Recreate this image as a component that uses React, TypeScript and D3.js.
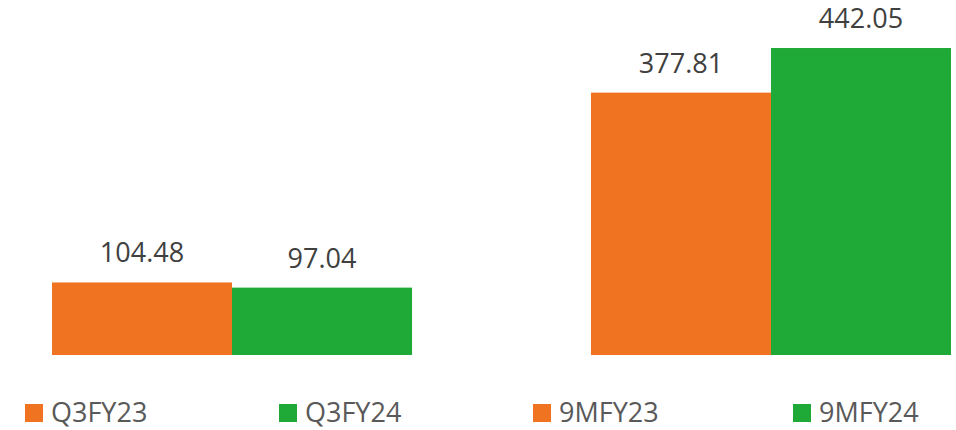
import { useRef, useEffect } from "react";
import * as d3 from "d3";

const groups = ["Q3", "9M"];
const seriesLabels = ["Q3FY23", "Q3FY24", "9MFY23", "9MFY24"];
const prevYear = [104.48, 377.81];
const currYear = [97.04, 442.05];

const ORANGE = "#ef7320";
const GREEN = "#1fa937";
const FONT = "'Open Sans', 'Segoe UI', sans-serif";

export default function App() {
  const svgRef = useRef<SVGSVGElement>(null);

  useEffect(() => {
    if (!svgRef.current) return;
    const width = 956;
    const height = 430;
    const svg = d3.select(svgRef.current);
    svg.selectAll("*").remove();

    const data = groups.map((g, i) => ({
      group: g,
      values: [
        { key: "prev", value: prevYear[i], color: ORANGE },
        { key: "curr", value: currYear[i], color: GREEN },
      ],
    }));

    const x0 = d3
      .scaleBand()
      .domain(groups)
      .range([52, 951])
      .paddingInner(0.332)
      .paddingOuter(0);

    const x1 = d3
      .scaleBand()
      .domain(["prev", "curr"])
      .range([0, x0.bandwidth()]);

    const y = d3.scaleLinear().domain([0, 450]).range([355, 42.5]);

    const g = svg
      .selectAll(".group")
      .data(data)
      .enter()
      .append("g")
      .attr("transform", (d) => `translate(${x0(d.group)},0)`);

    g.selectAll("rect")
      .data((d) => d.values)
      .enter()
      .append("rect")
      .attr("x", (d) => x1(d.key) || 0)
      .attr("width", x1.bandwidth())
      .attr("y", (d) => y(d.value))
      .attr("height", (d) => y(0) - y(d.value))
      .attr("fill", (d) => d.color);

    g.selectAll("text")
      .data((d) => d.values)
      .enter()
      .append("text")
      .attr("x", (d) => (x1(d.key) || 0) + x1.bandwidth() / 2)
      .attr("y", (d) => y(d.value) - 20)
      .attr("text-anchor", "middle")
      .attr("fill", "#404040")
      .attr("font-family", FONT)
      .attr("font-size", "27px")
      .text((d) => d.value.toFixed(2));

    // Legend
    const legendX = [25, 279, 533, 793];
    const legendColors = [ORANGE, GREEN, ORANGE, GREEN];
    const legend = svg
      .selectAll(".legend")
      .data(seriesLabels)
      .enter()
      .append("g")
      .attr("transform", (_, i) => `translate(${legendX[i]},404)`);

    legend
      .append("rect")
      .attr("width", 18)
      .attr("height", 18)
      .attr("fill", (_, i) => legendColors[i]);

    legend
      .append("text")
      .attr("x", 26)
      .attr("y", 18)
      .attr("fill", "#595959")
      .attr("font-family", FONT)
      .attr("font-size", "27px")
      .text((d) => d);

    svg.attr("width", width).attr("height", height);
  }, []);

  return (
    <div style={{ position: "absolute", left: 0, top: 0 }}>
      <svg ref={svgRef} width={956} height={430} style={{ display: "block" }} />
    </div>
  );
}
